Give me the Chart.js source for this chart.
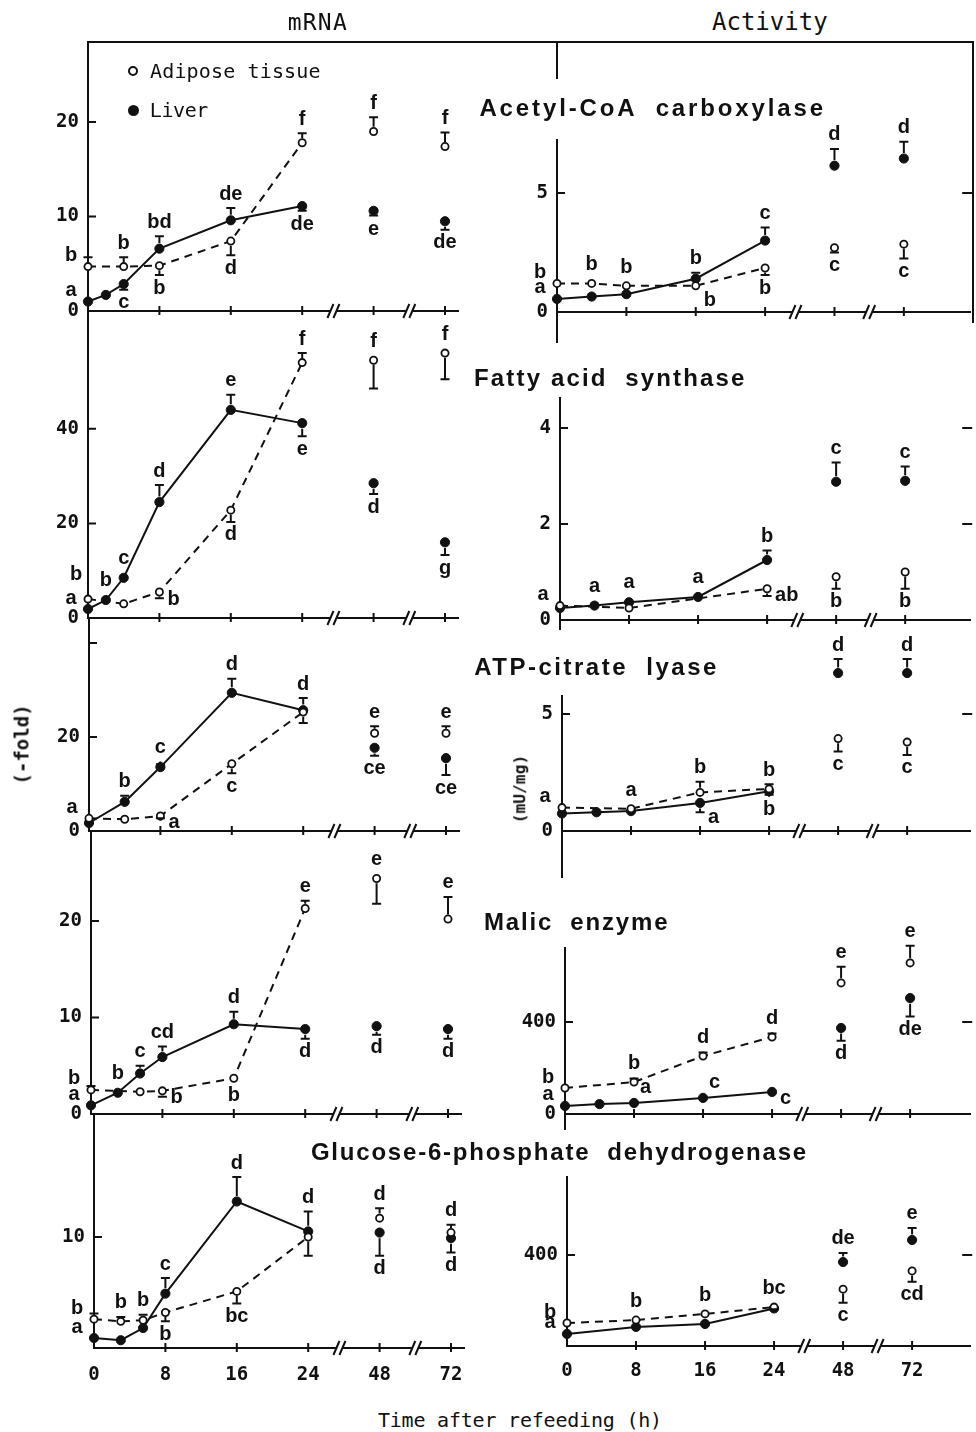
<!DOCTYPE html>
<html>
<head>
<meta charset="utf-8">
<title>Lipogenic enzymes after refeeding</title>
<script src="https://cdn.jsdelivr.net/npm/chart.js@4.4.1/dist/chart.umd.min.js"></script>
<style>
  html, body { margin: 0; background: #fff; }
  #fig { position: relative; width: 976px; height: 1432px; overflow: hidden; background: #fff; color: #111; }
  #fig canvas { position: absolute; }
  .t { position: absolute; white-space: pre; line-height: 1; }
  .mono { font-family: "DejaVu Sans Mono", monospace; }
  .rot { font-weight: bold; }
  .enz { font-family: "Liberation Sans", Arial, sans-serif; font-weight: bold; font-size: 24px; }
  .rule { position: absolute; background: #111; }
  .sym { position: absolute; border-radius: 50%; box-sizing: border-box; }
</style>
</head>
<body>
<div id="fig">
  <div class="rule" style="left:88px;top:41px;width:886px;height:2px"></div>
  <div class="rule" style="left:972px;top:41px;width:2px;height:282px"></div>
  <div class="rule" style="left:556px;top:41px;width:2px;height:38px"></div>

  <div class="t mono" style="font-size:23px" data-cx="317" data-cy="22" data-w="60">mRNA</div>
  <div class="t mono" style="font-size:24px" data-cx="770" data-cy="22" data-w="116">Activity</div>

  <div class="sym" style="left:128px;top:66px;width:10px;height:10px;border:2px solid #111"></div>
  <div class="t mono" style="font-size:20px" data-cx="235.5" data-cy="71" data-w="171">Adipose tissue</div>
  <div class="sym" style="left:128px;top:105px;width:11px;height:11px;background:#111"></div>
  <div class="t mono" style="font-size:20px" data-cx="179" data-cy="110" data-w="58">Liver</div>

  <div class="t enz" data-cx="651.5" data-cy="108" data-w="347">Acetyl-CoA  carboxylase</div>
  <div class="t enz" data-cx="609" data-cy="378" data-w="272">Fatty acid  synthase</div>
  <div class="t enz" data-cx="595.5" data-cy="667" data-w="245">ATP-citrate  lyase</div>
  <div class="t enz" data-cx="575.5" data-cy="922" data-w="185">Malic  enzyme</div>
  <div class="t enz" data-cx="558.5" data-cy="1152" data-w="497">Glucose-6-phosphate  dehydrogenase</div>

  <div class="t mono" style="font-size:20px" data-cx="520" data-cy="1420" data-w="284">Time after refeeding (h)</div>
  <div class="t mono rot" style="font-size:19px" data-cx="22" data-cy="744" data-w="80" data-rot="1">(-fold)</div>
  <div class="t mono rot" style="font-size:16px" data-cx="520" data-cy="789" data-w="68" data-rot="1">(mU/mg)</div>
</div>

<script>
// =================================================================
// DATA  (Ad = adipose tissue, Lv = liver)
//   *Err : one-sided SEM, + drawn upwards, - drawn downwards
//   *Sig : significance letters, *At : where the letter sits
// =================================================================

// time axis — the scale is broken after 24 h
const timeTicks = [0, 8, 16, 24, 48, 72];
const timePos   = [0, 8, 16, 24, 32, 40];
const breakPos  = [27.5, 36];

// ── Acetyl-CoA carboxylase, mRNA ─────────────────────────────
const accMAdT   = [0, 4, 8, 16, 24, 48, 72];
const accMAd    = [4.7, 4.7, 4.8, 7.4, 17.8, 19.0, 17.4];
const accMAdErr = [1.0, 1.0, -1.0, -1.5, 1.0, 1.5, 1.5];
const accMAdSig = ["b", "b", "b", "d", "f", "f", "f"];
const accMAdAt  = ["l", "t", "b", "b", "t", "t", "t"];
const accMLvT   = [0, 2, 4, 8, 16, 24, 48, 72];
const accMLv    = [1.0, 1.7, 2.85, 6.6, 9.6, 11.1, 10.6, 9.5];
const accMLvErr = [0, 0, -0.6, 1.3, 1.3, -0.5, -0.5, -0.9];
const accMLvSig = ["a", "", "c", "bd", "de", "de", "e", "de"];
const accMLvAt  = ["l", "", "b", "t", "t", "b", "b", "b"];

// ── Fatty acid synthase, mRNA ────────────────────────────────
const fasMAdT   = [0, 4, 8, 16, 24, 48, 72];
const fasMAd    = [4.0, 3.0, 5.5, 22.8, 54, 54.5, 56];
const fasMAdErr = [0, 0, -1.3, -2.5, 2.0, -6, -5.5];
const fasMAdSig = ["b", "", "b", "d", "f", "f", "f"];
const fasMAdAt  = ["tl", "", "r", "b", "t", "t", "t"];
const fasMLvT   = [0, 2, 4, 8, 16, 24, 48, 72];
const fasMLv    = [1.9, 3.8, 8.5, 24.5, 44, 41.2, 28.5, 16];
const fasMLvErr = [0, 0, 0, 3.6, 3.2, -2.8, -2.3, -2.7];
const fasMLvSig = ["a", "b", "c", "d", "e", "e", "d", "g"];
const fasMLvAt  = ["l", "t", "t", "t", "t", "b", "b", "b"];

// ── ATP-citrate lyase, mRNA ──────────────────────────────────
const aclMAdT   = [0, 4, 8, 16, 24, 48, 72];
const aclMAd    = [2.7, 2.5, 3.2, 14.3, 25.3, 20.8, 20.8];
const aclMAdErr = [0, 0, -0.5, -2.0, -2.3, 1.5, 1.5];
const aclMAdSig = ["a", "", "a", "c", "", "e", "e"];
const aclMAdAt  = ["l", "", "r", "b", "", "t", "t"];
const aclMLvT   = [0, 4, 8, 16, 24, 48, 72];
const aclMLv    = [1.7, 6.2, 13.6, 29.4, 25.7, 17.7, 15.5];
const aclMLvErr = [0, 1.3, 0.6, 3.0, 2.6, -1.7, -3.6];
const aclMLvSig = ["", "b", "c", "d", "d", "ce", "ce"];
const aclMLvAt  = ["", "t", "t", "t", "t", "b", "b"];

// ── Malic enzyme, mRNA ───────────────────────────────────────
const meMAdT    = [0, 5.5, 8, 16, 24, 48, 72];
const meMAd     = [2.5, 2.3, 2.4, 3.7, 21.3, 24.4, 20.2];
const meMAdErr  = [0.4, 0, -0.6, 0, 0.8, -2.6, 2.3];
const meMAdSig  = ["b", "", "b", "b", "e", "e", "e"];
const meMAdAt   = ["l", "", "r", "b", "t", "t", "t"];
const meMLvT    = [0, 3, 5.5, 8, 16, 24, 48, 72];
const meMLv     = [0.9, 2.2, 4.2, 5.9, 9.3, 8.8, 9.1, 8.8];
const meMLvErr  = [0, 0, 0.8, 1.1, 1.3, -1.0, -0.9, -1.0];
const meMLvSig  = ["a", "b", "c", "cd", "d", "d", "d", "d"];
const meMLvAt   = ["l", "t", "t", "t", "t", "b", "b", "b"];

// ── Glucose-6-phosphate dehydrogenase, mRNA ──────────────────
const g6pMAdT   = [0, 3, 5.5, 8, 16, 24, 48, 72];
const g6pMAd    = [2.6, 2.4, 2.5, 3.2, 5.1, 10.0, 11.7, 10.4];
const g6pMAdErr = [0.5, 0.4, 0.5, -0.8, -1.1, -1.7, 0.9, 0.7];
const g6pMAdSig = ["b", "b", "b", "b", "bc", "", "d", "d"];
const g6pMAdAt  = ["l", "t", "t", "b", "b", "", "t", "t"];
const g6pMLvT   = [0, 3, 5.5, 8, 16, 24, 48, 72];
const g6pMLv    = [0.9, 0.7, 1.8, 4.9, 13.2, 10.5, 10.4, 9.9];
const g6pMLvErr = [0, 0, 0, 1.4, 2.2, 1.8, -2.1, -1.3];
const g6pMLvSig = ["a", "", "", "c", "d", "d", "d", "d"];
const g6pMLvAt  = ["l", "", "", "t", "t", "t", "b", "b"];

// ── Acetyl-CoA carboxylase, activity (mU/mg) ─────────────────
const accAAdT   = [0, 4, 8, 16, 24, 48, 72];
const accAAd    = [1.2, 1.2, 1.1, 1.1, 1.85, 2.7, 2.85];
const accAAdErr = [0, 0, 0, 0, -0.3, -0.2, -0.6];
const accAAdSig = ["b", "b", "b", "b", "b", "c", "c"];
const accAAdAt  = ["l", "t", "t", "br", "b", "b", "b"];
const accALvT   = [0, 4, 8, 16, 24, 48, 72];
const accALv    = [0.55, 0.65, 0.75, 1.4, 3.0, 6.15, 6.45];
const accALvErr = [0, 0, 0, 0.25, 0.55, 0.7, 0.7];
const accALvSig = ["a", "", "", "b", "c", "d", "d"];
const accALvAt  = ["l", "", "", "t", "t", "t", "t"];

// ── Fatty acid synthase, activity ────────────────────────────
const fasAAdT   = [0, 8, 24, 48, 72];
const fasAAd    = [0.3, 0.25, 0.65, 0.9, 1.0];
const fasAAdErr = [0, 0, -0.15, -0.25, -0.35];
const fasAAdSig = ["a", "", "ab", "b", "b"];
const fasAAdAt  = ["l", "", "r", "b", "b"];
const fasALvT   = [0, 4, 8, 16, 24, 48, 72];
const fasALv    = [0.25, 0.3, 0.37, 0.48, 1.25, 2.88, 2.9];
const fasALvErr = [0, 0, 0, 0, 0.2, 0.4, 0.3];
const fasALvSig = ["", "a", "a", "a", "b", "c", "c"];
const fasALvAt  = ["", "t", "t", "t", "t", "t", "t"];

// ── ATP-citrate lyase, activity ──────────────────────────────
const aclAAdT   = [0, 8, 16, 24, 48, 72];
const aclAAd    = [1.0, 0.95, 1.65, 1.8, 3.95, 3.8];
const aclAAdErr = [0, 0, 0.45, 0.2, -0.55, -0.55];
const aclAAdSig = ["a", "a", "b", "b", "c", "c"];
const aclAAdAt  = ["l", "t", "t", "t", "b", "b"];
const aclALvT   = [0, 4, 8, 16, 24, 48, 72];
const aclALv    = [0.75, 0.8, 0.85, 1.2, 1.7, 6.75, 6.75];
const aclALvErr = [0, 0, 0, -0.4, -0.15, 0.6, 0.6];
const aclALvSig = ["", "", "", "a", "b", "d", "d"];
const aclALvAt  = ["", "", "", "br", "b", "t", "t"];

// ── Malic enzyme, activity ───────────────────────────────────
const meAAdT    = [0, 8, 16, 24, 48, 72];
const meAAd     = [113, 139, 252, 335, 570, 657];
const meAAdErr  = [0, 15, 15, 15, 70, 74];
const meAAdSig  = ["b", "b", "d", "d", "e", "e"];
const meAAdAt   = ["l", "t", "t", "t", "t", "t"];
const meALvT    = [0, 4, 8, 16, 24, 48, 72];
const meALv     = [35, 43, 48, 70, 96, 374, 504];
const meALvErr  = [0, 0, 0, 0, 0, -55, -80];
const meALvSig  = ["a", "", "a", "c", "c", "d", "de"];
const meALvAt   = ["l", "", "rt", "rt", "r", "b", "b"];

// ── Glucose-6-phosphate dehydrogenase, activity ──────────────
const g6pAAdT   = [0, 8, 16, 24, 48, 72];
const g6pAAd    = [101, 114, 141, 171, 250, 330];
const g6pAAdErr = [0, 0, 0, -10, -60, -48];
const g6pAAdSig = ["b", "b", "b", "bc", "c", "cd"];
const g6pAAdAt  = ["l", "t", "t", "t", "b", "b"];
const g6pALvT   = [0, 8, 16, 24, 48, 72];
const g6pALv    = [53, 84, 97, 165, 369, 466];
const g6pALvErr = [0, 0, 0, 0, 40, 53];
const g6pALvSig = ["a", "", "", "", "de", "e"];
const g6pALvAt  = ["l", "", "", "", "t", "t"];

// =================================================================
// LAYOUT — one small chart per panel, stacked in two columns
//   gap : px at the top of the y axis left open for the title
// =================================================================
const INK = "#111";
const PAD_T = 72, PAD_B = 48;
const Y_W = 46, X_H = 40;                     // room kept for tick labels
const LEFT_UNIT = 8.925, RIGHT_UNIT = 8.73;   // px per hour-unit on the x axis

const panels = [
  // mRNA column
  { col: 0, axisX: 88, top: 42,   zero: 311,  unit: 9.45, yTicks: [0, 10, 20], yLabels: ["0", "10", "20"],
    ad: [accMAdT, accMAd, accMAdErr, accMAdSig, accMAdAt], lv: [accMLvT, accMLv, accMLvErr, accMLvSig, accMLvAt] },
  { col: 0, axisX: 88, top: 311,  zero: 618,  unit: 4.73, yTicks: [0, 20, 40], yLabels: ["0", "20", "40"],
    ad: [fasMAdT, fasMAd, fasMAdErr, fasMAdSig, fasMAdAt], lv: [fasMLvT, fasMLv, fasMLvErr, fasMLvSig, fasMLvAt] },
  { col: 0, axisX: 89, top: 618,  zero: 831,  unit: 4.7,  yTicks: [0, 20, 40], yLabels: ["0", "20", ""],
    ad: [aclMAdT, aclMAd, aclMAdErr, aclMAdSig, aclMAdAt], lv: [aclMLvT, aclMLv, aclMLvErr, aclMLvSig, aclMLvAt] },
  { col: 0, axisX: 91, top: 831,  zero: 1114, unit: 9.65, yTicks: [0, 10, 20], yLabels: ["0", "10", "20"],
    ad: [meMAdT, meMAd, meMAdErr, meMAdSig, meMAdAt], lv: [meMLvT, meMLv, meMLvErr, meMLvSig, meMLvAt] },
  { col: 0, axisX: 94, top: 1114, zero: 1348, unit: 11.1, yTicks: [0, 10], yLabels: ["", "10"], bottom: true,
    ad: [g6pMAdT, g6pMAd, g6pMAdErr, g6pMAdSig, g6pMAdAt], lv: [g6pMLvT, g6pMLv, g6pMLvErr, g6pMLvSig, g6pMLvAt] },
  // activity column
  { col: 1, axisX: 557, top: 140,  zero: 312,  unit: 23.8,  yTicks: [0, 5], yLabels: ["0", "5"], right: [5], ext: 31,
    ad: [accAAdT, accAAd, accAAdErr, accAAdSig, accAAdAt], lv: [accALvT, accALv, accALvErr, accALvSig, accALvAt] },
  { col: 1, axisX: 560, top: 398,  zero: 620,  unit: 48,    yTicks: [0, 2, 4], yLabels: ["0", "2", "4"], right: [2, 4], ext: 12,
    ad: [fasAAdT, fasAAd, fasAAdErr, fasAAdSig, fasAAdAt], lv: [fasALvT, fasALv, fasALvErr, fasALvSig, fasALvAt] },
  { col: 1, axisX: 562, top: 632,  zero: 831,  unit: 23.4,  yTicks: [0, 5], yLabels: ["0", "5"], right: [5], ext: 47, gap: 63,
    ad: [aclAAdT, aclAAd, aclAAdErr, aclAAdSig, aclAAdAt], lv: [aclALvT, aclALv, aclALvErr, aclALvSig, aclALvAt] },
  { col: 1, axisX: 565, top: 948,  zero: 1114, unit: 0.23,  yTicks: [0, 400], yLabels: ["0", "400"], right: [400], ext: 16,
    ad: [meAAdT, meAAd, meAAdErr, meAAdSig, meAAdAt], lv: [meALvT, meALv, meALvErr, meALvSig, meALvAt] },
  { col: 1, axisX: 567, top: 1177, zero: 1346, unit: 0.2275, yTicks: [0, 400], yLabels: ["", "400"], right: [400], bottom: true,
    ad: [g6pAAdT, g6pAAd, g6pAAdErr, g6pAAdSig, g6pAAdAt], lv: [g6pALvT, g6pALv, g6pALvErr, g6pALvSig, g6pALvAt] },
];

// hour → position on the broken axis
const mapT = (t) => (t <= 24 ? t : timePos[timeTicks.indexOf(t)]);

// =================================================================
// PLUGINS — inward ticks, axis breaks, error bars, letters
// =================================================================
const deco = {
  id: "deco",
  afterDraw(chart, args, o) {
    const { ctx, chartArea: a, scales: { x, y } } = chart;
    ctx.save();
    if (o.gap) {
      ctx.fillStyle = "#fff";
      ctx.fillRect(a.left - 3, a.top - 2, 6, o.gap + 2);
    }
    ctx.strokeStyle = INK;
    ctx.lineWidth = 2;
    ctx.beginPath();
    y.ticks.forEach((t) => {
      if (t.value === 0) return;
      const py = y.getPixelForValue(t.value);
      ctx.moveTo(a.left, py);
      ctx.lineTo(a.left + 8, py);
    });
    (o.right || []).forEach((v) => {
      const py = y.getPixelForValue(v);
      ctx.moveTo(a.right - 8, py);
      ctx.lineTo(a.right + 2, py);
    });
    x.ticks.forEach((t) => {
      if (t.value === 0) return;
      const px = x.getPixelForValue(t.value);
      ctx.moveTo(px, a.bottom - 5);
      ctx.lineTo(px, a.bottom + 4);
    });
    if (o.ext) {
      ctx.moveTo(a.left, a.bottom);
      ctx.lineTo(a.left, a.bottom + o.ext);
    }
    ctx.stroke();

    // "//" breaks on the time axis
    breakPos.forEach((b) => {
      const px = x.getPixelForValue(b);
      ctx.fillStyle = "#fff";
      ctx.fillRect(px - 3, a.bottom - 2, 6, 4);
      ctx.beginPath();
      [-3, 3].forEach((d) => {
        ctx.moveTo(px + d - 3, a.bottom + 7);
        ctx.lineTo(px + d + 3, a.bottom - 7);
      });
      ctx.stroke();
    });
    ctx.restore();
  },
};

const marks = {
  id: "marks",
  afterDatasetsDraw(chart) {
    const { ctx, scales: { y } } = chart;
    ctx.save();
    ctx.strokeStyle = INK;
    ctx.fillStyle = INK;
    ctx.lineWidth = 2;
    ctx.font = 'bold 20px "Liberation Sans", Arial, sans-serif';
    ctx.textBaseline = "middle";

    chart.data.datasets.forEach((ds, di) => {
      chart.getDatasetMeta(di).data.forEach((pt, i) => {
        const r = ds.pointRadius + 1;
        let hi = pt.y - r, lo = pt.y + r;
        const e = ds.err[i];
        if (e) {
          const ey = y.getPixelForValue(ds.data[i].y + e);
          ctx.beginPath();
          ctx.moveTo(pt.x, e > 0 ? hi : lo);
          ctx.lineTo(pt.x, ey);
          ctx.moveTo(pt.x - 4.5, ey);
          ctx.lineTo(pt.x + 4.5, ey);
          ctx.stroke();
          hi = Math.min(hi, ey);
          lo = Math.max(lo, ey);
        }
        const s = ds.sig[i];
        if (!s) return;
        const at = {
          t:  [pt.x, hi - 14, "center"],
          b:  [pt.x, lo + 13, "center"],
          l:  [pt.x - 17, pt.y - 11, "center"],
          tl: [pt.x - 12, pt.y - 25, "center"],
          r:  [pt.x + 8, pt.y + 7, "left"],
          br: [pt.x + 8, pt.y + 15, "left"],
          rt: [pt.x + 6, pt.y - 15, "left"],
        }[ds.sigAt[i]];
        ctx.textAlign = at[2];
        ctx.fillText(s, at[0], at[1]);
      });
    });
    ctx.restore();
  },
};

// =================================================================
// BUILD
// =================================================================
const series = ([t, v, err, sig, sigAt], open) => ({
  data: t.map((h, i) => ({ x: mapT(h), y: v[i] })),
  err, sig, sigAt,
  showLine: true,
  borderColor: INK,
  borderWidth: 2,
  borderDash: open ? [8, 6] : [],
  pointRadius: open ? 3.6 : 4.6,
  pointBorderWidth: open ? 1.8 : 1,
  pointBackgroundColor: open ? "#fff" : INK,
  pointBorderColor: INK,
  clip: false,
  // 48 h and 72 h are not joined to the curve
  segment: { borderColor: (c) => (c.p1.parsed.x > 24 ? "rgba(0,0,0,0)" : undefined) },
});

const TICK_FONT = { family: '"DejaVu Sans Mono", monospace', size: 19, weight: "bold" };
const fig = document.getElementById("fig");

panels.forEach((p) => {
  const colLeft = p.col ? 488 : 0;
  const rightPx = p.col ? (p.axisX === 557 ? 973 : 975) : p.axisX + 370;
  const unitX = p.col ? RIGHT_UNIT : LEFT_UNIT;
  const padT = Math.min(PAD_T, p.top);
  const cTop = p.top - padT;
  const w = 488, h = (p.zero - p.top) + padT + PAD_B;

  const canvas = document.createElement("canvas");
  canvas.width = w;
  canvas.height = h;
  canvas.style.left = colLeft + "px";
  canvas.style.top = cTop + "px";
  fig.insertBefore(canvas, fig.querySelector(".t"));

  new Chart(canvas.getContext("2d"), {
    type: "scatter",
    data: { datasets: [series(p.ad, true), series(p.lv, false)] },
    options: {
      responsive: false,
      animation: false,
      events: [],
      layout: {
        padding: { left: p.axisX - colLeft - Y_W, right: colLeft + w - rightPx, top: padT, bottom: PAD_B - X_H },
      },
      plugins: {
        legend: { display: false },
        tooltip: { enabled: false },
        deco: { right: p.right, ext: p.ext, gap: p.gap },
      },
      scales: {
        x: {
          type: "linear",
          min: 0,
          max: (rightPx - p.axisX) / unitX,
          afterFit: (s) => { s.height = X_H; },
          afterBuildTicks: (s) => { s.ticks = timePos.map((v) => ({ value: v })); },
          grid: { display: false, drawTicks: false },
          border: { color: INK, width: 2 },
          ticks: {
            display: !!p.bottom,
            autoSkip: false,
            maxRotation: 0,
            padding: p.col ? 14 : 16,
            color: INK,
            font: TICK_FONT,
            callback: (v) => String(timeTicks[timePos.indexOf(v)]),
          },
        },
        y: {
          type: "linear",
          min: 0,
          max: (p.zero - p.top) / p.unit,
          afterFit: (s) => { s.width = Y_W; },
          afterBuildTicks: (s) => { s.ticks = p.yTicks.map((v) => ({ value: v })); },
          grid: { display: false, drawTicks: false },
          border: { color: INK, width: 2 },
          ticks: {
            autoSkip: false,
            padding: 9,
            color: INK,
            font: TICK_FONT,
            callback: (v) => p.yLabels[p.yTicks.indexOf(v)],
          },
        },
      },
    },
    plugins: [deco, marks],
  });
});

// =================================================================
// TEXT — spread each label to the width it has in the figure
// =================================================================
document.querySelectorAll("#fig .t").forEach((el) => {
  const n = el.textContent.length;
  const w0 = el.offsetWidth;
  const ls = (+el.dataset.w - w0) / n;
  el.style.letterSpacing = ls + "px";
  const w1 = el.offsetWidth, h = el.offsetHeight;
  el.style.left = (+el.dataset.cx - (w1 - ls) / 2) + "px";
  el.style.top = (+el.dataset.cy - h / 2) + "px";
  if (el.dataset.rot) el.style.transform = "rotate(-90deg)";
});
</script>
</body>
</html>
